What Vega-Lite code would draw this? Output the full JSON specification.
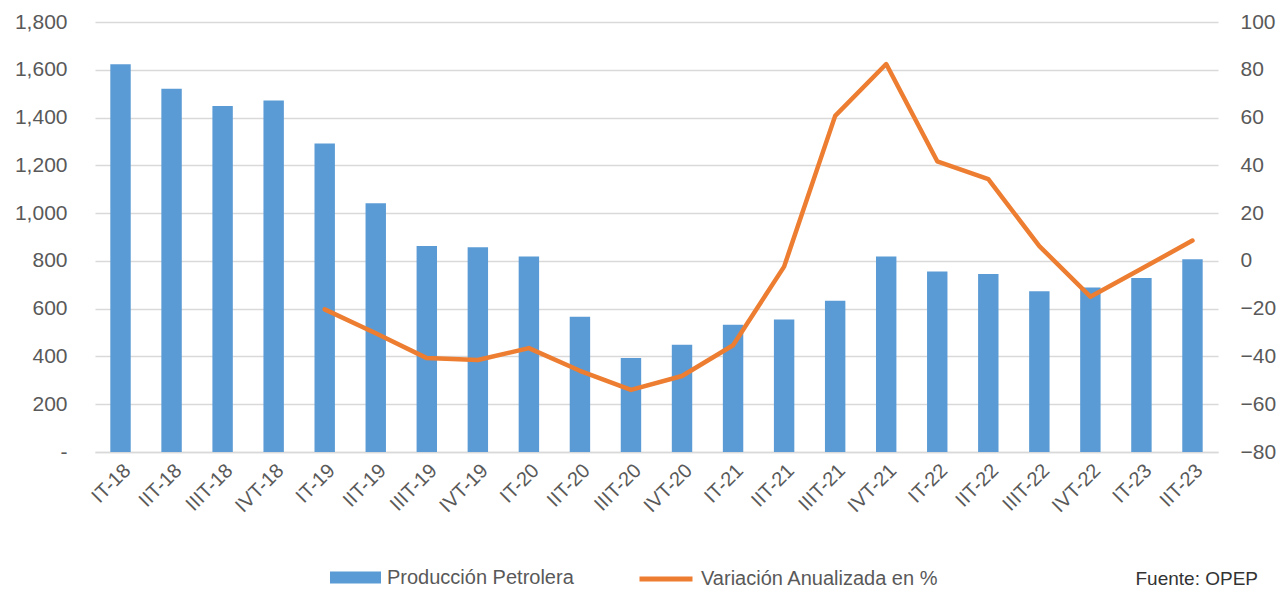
{
  "$schema": "https://vega.github.io/schema/vega-lite/v6.json",
  "width": 1123,
  "height": 430,
  "autosize": {"type": "none"},
  "padding": {"left": 95, "top": 22, "right": 60, "bottom": 138},
  "config": {"view": {"stroke": null}, "font": "Liberation Sans"},
  "title": {"text": "Fuente: OPEP", "orient": "bottom", "anchor": "end", "frame": "group", "dx": 40, "dy": -19, "offset": 0, "fontSize": 19, "fontWeight": "normal", "color": "#333333", "font": "Liberation Sans"},
  "data": {"values": [
    {"q": "IT-18", "prod": 1623, "var": null},
    {"q": "IIT-18", "prod": 1521, "var": null},
    {"q": "IIIT-18", "prod": 1448, "var": null},
    {"q": "IVT-18", "prod": 1471, "var": null},
    {"q": "IT-19", "prod": 1291, "var": -20.3},
    {"q": "IIT-19", "prod": 1041, "var": -30.3},
    {"q": "IIIT-19", "prod": 862, "var": -40.7},
    {"q": "IVT-19", "prod": 857, "var": -41.5},
    {"q": "IT-20", "prod": 818, "var": -36.5},
    {"q": "IIT-20", "prod": 566, "var": -46.0},
    {"q": "IIIT-20", "prod": 393, "var": -54.0},
    {"q": "IVT-20", "prod": 449, "var": -48.2},
    {"q": "IT-21", "prod": 533, "var": -35.3},
    {"q": "IIT-21", "prod": 555, "var": -2.4},
    {"q": "IIIT-21", "prod": 633, "var": 60.7},
    {"q": "IVT-21", "prod": 818, "var": 82.4},
    {"q": "IT-22", "prod": 756, "var": 41.7},
    {"q": "IIT-22", "prod": 745, "var": 34.2},
    {"q": "IIIT-22", "prod": 673, "var": 6.2},
    {"q": "IVT-22", "prod": 689, "var": -15.0},
    {"q": "IT-23", "prod": 728, "var": -3.3},
    {"q": "IIT-23", "prod": 807, "var": 8.5}
  ]},
  "encoding": {
    "x": {
      "field": "q", "type": "nominal", "sort": null,
      "scale": {"paddingInner": 0.6, "paddingOuter": 0.3},
      "axis": {"title": null, "labelAngle": -45, "labelFontSize": 20, "labelColor": "#595959", "ticks": false, "domainColor": "#D9D9D9", "domainWidth": 1.5, "labelPadding": 8}
    }
  },
  "layer": [
    {
      "mark": {"type": "bar"},
      "encoding": {
        "y": {
          "field": "prod", "type": "quantitative",
          "scale": {"domain": [0, 1800], "nice": false},
          "axis": {"title": null, "values": [0, 200, 400, 600, 800, 1000, 1200, 1400, 1600, 1800], "grid": true, "gridColor": "#D9D9D9", "gridWidth": 1.5, "domain": false, "ticks": false, "labelFontSize": 21, "labelColor": "#595959", "labelPadding": 28, "labelExpr": "datum.value === 0 ? '-\u2002' : format(datum.value, ',')"}
        },
        "fill": {
          "datum": "Producción Petrolera",
          "scale": {"range": ["#5B9BD5"]},
          "legend": {"orient": "none", "legendX": 235, "legendY": 530, "title": null, "symbolType": "M-1,-0.235H1V0.235H-1Z", "symbolSize": 2601, "symbolStrokeWidth": 0, "labelFontSize": 20, "labelColor": "#595959", "labelOffset": 6, "labelLimit": 500}
        }
      }
    },
    {
      "mark": {"type": "line", "strokeWidth": 4.5, "strokeCap": "round", "strokeJoin": "round"},
      "encoding": {
        "y": {
          "field": "var", "type": "quantitative",
          "scale": {"domain": [-80, 100], "nice": false},
          "axis": {"title": null, "orient": "right", "values": [-80, -60, -40, -20, 0, 20, 40, 60, 80, 100], "grid": false, "domain": false, "ticks": false, "labelFontSize": 21, "labelColor": "#595959", "labelPadding": 22}
        },
        "stroke": {
          "datum": "Variación Anualizada en %",
          "scale": {"range": ["#ED7D31"]},
          "legend": {"orient": "none", "legendX": 542, "legendY": 528, "title": null, "symbolType": "stroke", "symbolSize": 2809, "symbolStrokeWidth": 5, "labelFontSize": 20, "labelColor": "#595959", "labelOffset": 6, "labelLimit": 500}
        }
      }
    }
  ],
  "resolve": {"scale": {"y": "independent"}}
}
